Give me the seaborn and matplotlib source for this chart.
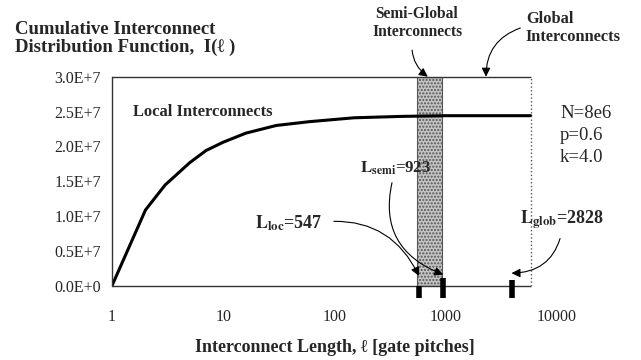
import numpy as np
import pandas as pd
import seaborn as sns
import matplotlib.pyplot as plt

# values
lengths = [1, 2, 3, 5, 7, 10, 16, 30, 60, 150, 400, 1000, 5800]
cumulative = [0, 1.087e7, 1.445e7, 1.766e7, 1.94e7, 2.06e7, 2.19e7, 2.3e7, 2.355e7, 2.41e7, 2.43e7, 2.44e7, 2.44e7]
yticks = [0, 0.5e7, 1.0e7, 1.5e7, 2.0e7, 2.5e7, 3.0e7]
ytick_labels = ['0.0E+0', '0.5E+7', '1.0E+7', '1.5E+7', '2.0E+7', '2.5E+7', '3.0E+7']
xticks = [1, 10, 100, 1000, 10000]
xtick_labels = ['1', '10', '100', '1000', '10000']
l_loc, l_semi, l_glob = 547, 923, 2828
box_right = 5800
marker_pos = [575, 950, 3900]
marker_top = [-0.1e6, 1.1e6, 0.8e6]
params = ['N=8e6', 'p=0.6', 'k=4.0']

sns.set_style('white')
plt.rcParams['font.family'] = ['Liberation Serif', 'DejaVu Serif']
plt.rcParams['mathtext.fontset'] = 'stix'

df = pd.DataFrame({'length': lengths, 'count': cumulative})

fig = plt.figure(figsize=(6.41, 3.6), dpi=100)
ax = fig.add_axes([112 / 641, 0.2064, 445 / 641, 0.5806])

ax.axvspan(l_loc, l_semi, facecolor='#c4c4c4', edgecolor='#555555', hatch='.....', lw=0.8)
sns.lineplot(data=df, x='length', y='count', color='black', lw=2.2, ax=ax)
ax.set_xscale('log')
ax.set_yticks(yticks)
ax.set_yticklabels(ytick_labels)
ax.set_xticks(xticks)
ax.set_xticklabels(xtick_labels)
ax.set_xlim(1, 10000)
ax.set_ylim(0, 3.0e7)
ax.minorticks_off()
ax.tick_params(axis='y', length=0, pad=8, labelsize=11.5)
ax.tick_params(axis='x', length=0, pad=17, labelsize=11.5)
ax.set_ylabel('')
ax.set_xlabel('Interconnect Length, \u2113 [gate pitches]', fontsize=13, fontweight='bold', labelpad=10)

# frame: solid left, bottom and top, dotted right edge at the end of the data
for side in ['right', 'top', 'bottom']:
    ax.spines[side].set_visible(False)
ax.spines['left'].set_color('#333333')
ax.spines['left'].set_linewidth(1.0)
ax.hlines([0, 3.0e7], 1, box_right, colors='#333333', lw=1.0, clip_on=False)
ax.vlines(box_right, 0, 3.0e7, colors='#555555', lw=1.0, linestyles=':')

ax.vlines(marker_pos, -1.77e6, marker_top, colors='black', lw=4, clip_on=False)

fig.text(15 / 641, 1 - 21 / 360, 'Cumulative Interconnect\nDistribution Function,  I(\u2113 )',
         fontsize=13.5, fontweight='bold', va='top', ha='left', linespacing=1.05)
ax.text(0.047, 0.83, 'Local Interconnects', transform=ax.transAxes, fontsize=11.9,
        fontweight='bold', va='center')

for i, t in enumerate(params):
    fig.text(560 / 641, 1 - (113 + i * 22) / 360, t, fontsize=13.5, va='center', ha='left')

arrow = dict(arrowstyle='-|>', color='black', lw=0.8, mutation_scale=13)

ax.annotate('Semi-Global\nInterconnects', xy=(690, 1.0), xycoords=('data', 'axes fraction'),
            xytext=(417 / 641, 1 - 23 / 360), textcoords='figure fraction',
            fontsize=11.2, fontweight='bold', ha='center', va='center', linespacing=1.15,
            arrowprops=dict(arrow, connectionstyle='arc3,rad=0.3', shrinkA=5, shrinkB=0,
                            relpos=(0.45, 0.0)))
ax.annotate('Global\nInterconnects', xy=(2300, 1.0), xycoords=('data', 'axes fraction'),
            xytext=(526 / 641, 1 - 28 / 360), textcoords='figure fraction',
            fontsize=11.8, fontweight='bold', ha='left', va='center', linespacing=1.2,
            arrowprops=dict(arrow, connectionstyle='arc3,rad=0.35', shrinkA=0, shrinkB=0,
                            relpos=(-0.06, 0.5)))

ax.annotate(r'$\mathbf{L}_{\mathbf{loc}}$=547', xy=(marker_pos[0], 1.4e6), xycoords='data',
            xytext=(255 / 641, 1 - 223 / 360), textcoords='figure fraction',
            fontsize=13, fontweight='bold', ha='left', va='center',
            arrowprops=dict(arrow, connectionstyle='arc3,rad=-0.35', shrinkA=6, shrinkB=0,
                            relpos=(1.0, 0.55)))
ax.annotate(r'$\mathbf{L}_{\mathbf{semi}}$=923', xy=(marker_pos[1], 1.6e6), xycoords='data',
            xytext=(360 / 641, 1 - 168 / 360), textcoords='figure fraction',
            fontsize=12.2, fontweight='bold', ha='left', va='center',
            arrowprops=dict(arrow, connectionstyle='arc3,rad=0.45', shrinkA=2, shrinkB=0,
                            relpos=(0.47, 0.0)))
ax.annotate(r'$\mathbf{L}_{\mathbf{glob}}$=2828', xy=(marker_pos[2], 1.8e6), xycoords='data',
            xytext=(520 / 641, 1 - 220 / 360), textcoords='figure fraction',
            fontsize=13, fontweight='bold', ha='left', va='center',
            arrowprops=dict(arrow, connectionstyle='arc3,rad=-0.4', shrinkA=3, shrinkB=0,
                            relpos=(0.5, 0.0)))

fig.savefig('out.png', dpi=100)
